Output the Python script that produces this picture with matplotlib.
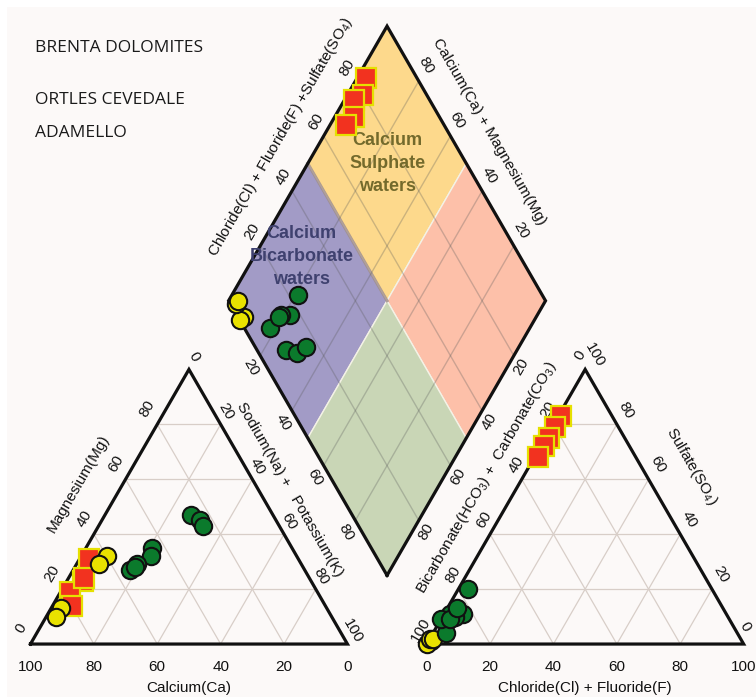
import numpy as np
import matplotlib.pyplot as plt
from matplotlib.patches import Polygon

plt.rcParams['font.family'] = ['Liberation Sans', 'DejaVu Sans']
plt.rcParams['mathtext.fontset'] = 'custom'
plt.rcParams['mathtext.rm'] = 'Liberation Sans'
plt.rcParams['mathtext.it'] = 'Liberation Sans:italic'

# Sample chemistry, percent of meq/l
groups = ['BRENTA DOLOMITES', 'ORTLES CEVEDALE', 'ADAMELLO']

red_ca = [66, 72, 78, 80, 71]
red_mg = [31, 23, 19, 14, 24]
red_nak = [3, 5, 3, 6, 5]
red_hco3 = [16, 20, 24, 27, 31]
red_so4 = [83, 79, 75, 72, 68]
red_cl = [1, 1, 1, 1, 1]

yel_ca = [60, 64, 84, 87]
yel_mg = [32, 29, 13, 10]
yel_nak = [8, 7, 3, 3]
yel_hco3 = [98, 100, 98, 97]
yel_so4 = [1, 0, 2, 2]
yel_cl = [1, 0, 0, 1]

grn_ca = [44, 46, 52, 55, 53, 26, 24, 24]
grn_mg = [35, 32, 29, 27, 28, 47, 45, 43]
grn_nak = [21, 22, 19, 18, 19, 27, 31, 33]
grn_hco3 = [77, 83, 86, 92, 87, 91, 88, 84]
grn_so4 = [20, 11, 10, 4, 11, 9, 9, 13]
grn_cl = [3, 6, 4, 4, 2, 0, 3, 3]

ticks = [0, 20, 40, 60, 80, 100]

H = np.sqrt(3) / 2
GAP = 0.25


def cation_xy(ca, mg, nak):
    mg = np.asarray(mg, float) / 100
    nak = np.asarray(nak, float) / 100
    return nak + 0.5 * mg, H * mg


def anion_xy(hco3, so4, cl):
    so4 = np.asarray(so4, float) / 100
    cl = np.asarray(cl, float) / 100
    return 1 + GAP + cl + 0.5 * so4, H * so4


def diamond_xy(nak, hco3):
    n = np.asarray(nak, float) / 100
    a = np.asarray(hco3, float) / 100
    return 1 + GAP / 2 + 0.5 * (n - a), GAP * H + H * (2 - n - a)


fig = plt.figure(figsize=(7.56, 6.97), dpi=100)
fig.patch.set_facecolor('white')
ax = fig.add_axes([7 / 756, 0, 749 / 756, 690 / 697])
ax.set_facecolor('#fcf9f8')
ax.set_xlim(-0.074, 2.289)
ax.set_ylim(-0.167, 2.009)
ax.set_xticks([])
ax.set_yticks([])
for s in ax.spines.values():
    s.set_visible(False)

grid_kw = dict(color='#d8cec8', lw=0.9, zorder=1)
edge_kw = dict(color='#111111', lw=2.3, zorder=4, solid_joinstyle='miter')

# triangle grids
for v in [20, 40, 60, 80]:
    w = 100 - v
    for a, b in [((w, v, 0), (0, v, w)), ((w, 0, v), (0, w, v)), ((v, w, 0), (v, 0, w))]:
        x, y = cation_xy(*zip(a, b))
        ax.plot(x, y, **grid_kw)
        x, y = anion_xy(*zip(a, b))
        ax.plot(x, y, **grid_kw)

# triangle outlines
x, y = cation_xy([100, 0, 0, 100], [0, 0, 100, 0], [0, 100, 0, 0])
ax.plot(x, y, **edge_kw)
x, y = anion_xy([100, 0, 0, 100], [0, 0, 100, 0], [0, 100, 0, 0])
ax.plot(x, y, **edge_kw)

# diamond water-type fields
fields = [
    ((0, 50, 50, 0), (0, 0, 50, 50), '#fdd98c'),      # calcium sulphate
    ((0, 50, 50, 0), (50, 50, 100, 100), '#a29bc6'),  # calcium bicarbonate
    ((50, 100, 100, 50), (0, 0, 50, 50), '#fdc0a9'),  # sodium chloride
    ((50, 100, 100, 50), (50, 50, 100, 100), '#c9d6b6'),
]
for nk, hc, col in fields:
    x, y = diamond_xy(nk, hc)
    ax.add_patch(Polygon(np.column_stack([x, y]), closed=True, fc=col,
                         ec='#f4f2e6', lw=1.0, zorder=2))
x, y = diamond_xy([0, 50], [50, 50])
ax.plot(x, y, color='#9e8c88', lw=2.2, alpha=0.8, zorder=2.5)

for v in [20, 40, 60, 80]:
    x, y = diamond_xy([v, v], [0, 100])
    ax.plot(x, y, color='#5a5a5a', lw=1.0, alpha=0.3, zorder=3)
    x, y = diamond_xy([0, 100], [v, v])
    ax.plot(x, y, color='#5a5a5a', lw=1.0, alpha=0.3, zorder=3)

x, y = diamond_xy([100, 0, 0, 100, 100], [100, 100, 0, 0, 100])
ax.plot(x, y, **edge_kw)


def tick(x, y, txt, rot, dx, dy):
    ax.annotate(txt, (x, y), xytext=(dx, dy), textcoords='offset points',
                rotation=rot, rotation_mode='anchor', ha='center', va='center',
                fontsize=11, color='#111111', zorder=6)


# tick labels
for v in ticks:
    tick(*cation_xy(v, 0, 100 - v), str(v), 0, 0, -16.5)
    tick(*anion_xy(100 - v, 0, v), str(v), 0, 0, -16.5)
    tick(*cation_xy(0, 100 - v, v), str(v), -60, 3.6, 9.4)
    tick(*anion_xy(v, 100 - v, 0), str(v), 60, -4, 10.4)
    # keep the corner zero inside the frame
    if v:
        tick(*anion_xy(0, v, 100 - v), str(v), -60, 6.8, 10.4)
    else:
        tick(*anion_xy(0, v, 100 - v), str(v), -60, 1.2, 12.5)
    if v < 100:
        tick(*cation_xy(100 - v, v, 0), str(v), 60, -7, 11)
    if 0 < v < 100:
        tick(*diamond_xy(v, 100), str(v), -60, -6.5, -8.3)
        tick(*diamond_xy(0, 100 - v), str(v), 60, -5.8, 10)
        tick(*diamond_xy(100 - v, 0), str(v), -60, 5, 11)
        tick(*diamond_xy(100, v), str(v), 60, 5.4, -8)

# axis titles
tick(0.5, 0, 'Calcium(Ca)', 0, 0, -31.7)
tick(1.5 + GAP, 0, 'Chloride(Cl) + Fluoride(F)', 0, 0, -31.7)
tick(0.25, H / 2, 'Magnesium(Mg)', 60, -22.7, 16.9)
tick(0.75, H / 2, 'Sodium(Na) +   Potassium(K)', -60, 15.7, 12.1)
tick(*anion_xy(50, 50, 0), r'Bicarbonate(HCO$_3$) +  Carbonate(CO$_3$)', 60, -13.7, 20.7)
tick(*anion_xy(0, 50, 50), r'Sulfate(SO$_4$)', -60, 19.4, 29)
tick(*diamond_xy(0, 50), r'Chloride(Cl) + Fluoride(F) +Sulfate(SO$_4$)', 60, -19.4, 19.2)
tick(*diamond_xy(50, 0), 'Calcium(Ca) + Magnesium(Mg)', -60, 16.3, 22.8)

# water type names
x, y = diamond_xy(25, 25)
ax.text(x, y, 'Calcium\nSulphate\nwaters', ha='center', va='center', fontsize=13,
        fontweight='bold', color='#736a2c', linespacing=1.45, zorder=6)
x, y = diamond_xy(15, 69)
ax.text(x, y, 'Calcium\nBicarbonate\nwaters', ha='center', va='center', fontsize=13,
        fontweight='bold', color='#3f416f', linespacing=1.45, zorder=6)

# samples
styles = [
    (red_ca, red_mg, red_nak, red_hco3, red_so4, red_cl,
     dict(marker='s', ms=14, mfc='#f2321f', mec='#e6e000', mew=1.6), 7),
    (yel_ca, yel_mg, yel_nak, yel_hco3, yel_so4, yel_cl,
     dict(marker='o', ms=12.5, mfc='#e9e200', mec='#111111', mew=1.5), 8),
    (grn_ca, grn_mg, grn_nak, grn_hco3, grn_so4, grn_cl,
     dict(marker='o', ms=12.5, mfc='#0b7a2c', mec='#111111', mew=1.5), 9),
]
for ca, mg, nak, hco3, so4, cl, mk, z in styles:
    for i in range(len(ca)):
        pts = [cation_xy(ca[i], mg[i], nak[i]),
               anion_xy(hco3[i], so4[i], cl[i]),
               diamond_xy(nak[i], hco3[i])]
        for px, py in pts:
            ax.plot(px, py, ls='none', zorder=z, clip_on=False, **mk)

# group names
for name, ypx in zip(groups, [48, 100, 133]):
    fig.text(35 / 756, 1 - ypx / 697, name, ha='left', va='center', fontsize=12.5,
             family=['Open Sans', 'DejaVu Sans'], color='#1a1a1a')

fig.savefig('out.png', dpi=100)
